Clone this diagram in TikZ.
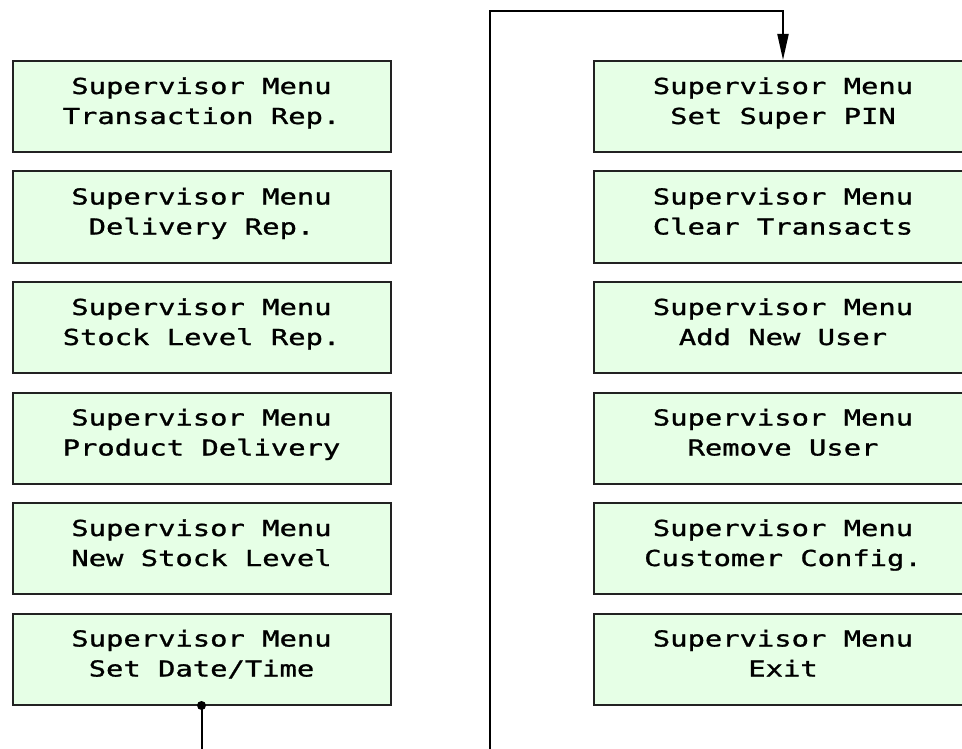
\documentclass[tikz,border=0pt]{standalone}
\usepackage{fontspec}
\newfontfamily\lcdfont[FakeStretch=1.31,FakeBold=1.2]{DejaVu Sans Mono}
\usetikzlibrary{positioning,arrows.meta}
\definecolor{MenuGreen}{RGB}{230,255,230}
\definecolor{EdgeGrey}{RGB}{34,34,34}
\tikzset{
  menubox/.style={draw=EdgeGrey,fill=MenuGreen,line width=2pt,
    minimum width=378pt,inner sep=0pt,align=center,
    text height=63pt,text depth=28pt,
    font=\lcdfont\fontsize{22pt}{30pt}\selectfont},
  link/.style={line width=2pt,draw=black},
  linkto/.style={link,-{Triangle[length=26pt,width=11pt]}}
}

\begin{document}
\begin{tikzpicture}[x=1pt,y=-1pt,node distance=17.5pt]
  \useasboundingbox (0,0) rectangle (962,749);
  \clip (0,0) rectangle (962,749);
  % left column
  \node[menubox,anchor=north] (trans) at (201.5,60) {
    Supervisor Menu\\Transaction Rep.};
  \node[menubox,below=of trans] (deliv) {
    Supervisor Menu\\Delivery Rep.};
  \node[menubox,below=of deliv] (stock) {
    Supervisor Menu\\Stock Level Rep.};
  \node[menubox,below=of stock] (product) {
    Supervisor Menu\\Product Delivery};
  \node[menubox,below=of product] (newstock) {
    Supervisor Menu\\New Stock Level};
  \node[menubox,below=of newstock] (datetime) {
    Supervisor Menu\\Set Date/Time};
  % right column
  \node[menubox,anchor=north] (superpin) at (783,60) {
    Supervisor Menu\\Set Super PIN};
  \node[menubox,below=of superpin] (clear) {
    Supervisor Menu\\Clear Transacts};
  \node[menubox,below=of clear] (adduser) {
    Supervisor Menu\\Add New User};
  \node[menubox,below=of adduser] (remuser) {
    Supervisor Menu\\Remove User};
  \node[menubox,below=of remuser] (custcfg) {
    Supervisor Menu\\Customer Config.};
  \node[menubox,below=of custcfg] (exitmenu) {
    Supervisor Menu\\Exit};
  % loop back to the top of the second column
  \coordinate (floor) at (490,790);
  \coordinate (ceiling) at (490,11);
  \draw[linkto] (datetime.south) |- (floor) -- (ceiling) -| (superpin.north);
  \fill (datetime.south) circle (4.5pt);
\end{tikzpicture}
\end{document}
